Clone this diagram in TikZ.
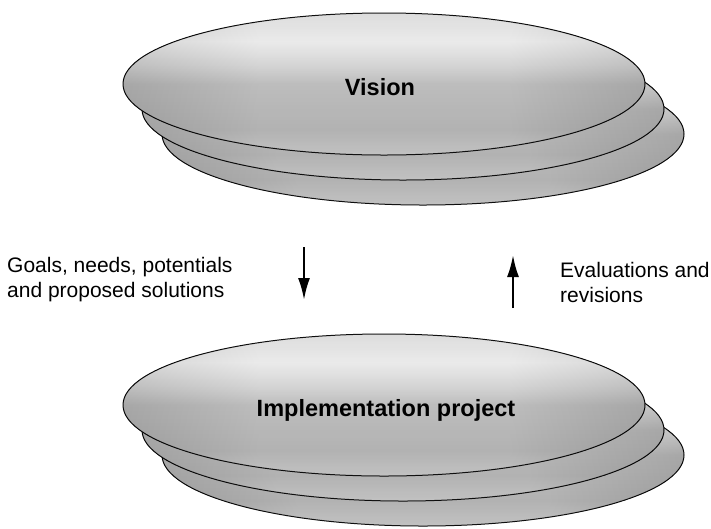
\documentclass[tikz,border=0pt]{standalone}
\usepackage{fontspec}
\setmainfont{Liberation Sans}
\usetikzlibrary{arrows.meta,shapes.geometric}
\definecolor{shA}{HTML}{BABABA}
\definecolor{shB}{HTML}{A8A8A8}
\definecolor{shC}{HTML}{B4B4B4}
\definecolor{shD}{HTML}{D0D0D0}
\definecolor{shE}{HTML}{E8E8E8}
\definecolor{shF}{HTML}{D8D8D8}
% colours listed from the bottom of the plate (25bp) to its top (75bp)
\pgfdeclareverticalshading{platesh}{100bp}{color(0bp)=(shA); color(25bp)=(shA); color(34bp)=(shB); color(50bp)=(shC); color(57bp)=(shD); color(65bp)=(shE); color(75bp)=(shF); color(100bp)=(shF)}
\pgfdeclarehorizontalshading{sidesh}{100bp}{color(0bp)=(black); color(25bp)=(black!70); color(38bp)=(white); color(62bp)=(white); color(75bp)=(black!70); color(100bp)=(black)}
\begin{document}
\begin{tikzpicture}[x=1pt,y=-1pt,
  plate/.style={ellipse, draw=black, line width=1pt, shading=platesh,
    minimum width=522pt, minimum height=142pt, inner sep=0pt,
    postaction={shade, shading=sidesh, fill opacity=0.12}},
  biglabel/.style={font=\bfseries\fontsize{23.5}{28}\selectfont, inner sep=0pt, anchor=base},
  sidetext/.style={font=\fontsize{21}{25.5}\selectfont, inner sep=0pt, anchor=north west, align=left},
  flow/.style={line width=2.3pt, -{Latex[length=22pt,width=12pt]}}]
\useasboundingbox (0,0) rectangle (711,528);
\fill[white] (0,0) rectangle (711,528);
% Vision stack
\node[plate] (v3) at (423,134) {};
\node[plate] (v2) at (403,109) {};
\node[plate] (v1) at (384,84) {};
\node[biglabel] (vl) at (380,95) {Vision};
% Implementation stack
\node[plate] (i3) at (423,455) {};
\node[plate] (i2) at (403,430) {};
\node[plate] (i1) at (384,405) {};
\node[biglabel] (il) at (386,416) {Implementation project};
% arrows
\coordinate (d1) at (304,247);
\coordinate (d2) at (304,300);
\coordinate (u1) at (513,308);
\coordinate (u2) at (513,255);
\draw[flow] (d1) -- (d2);
\draw[flow] (u1) -- (u2);
% side texts
\node[sidetext] (lt) at (7,257) {Goals, needs, potentials\\and proposed solutions};
\node[sidetext] (rt) at (560,262) {Evaluations and\\revisions};
\end{tikzpicture}
\end{document}
